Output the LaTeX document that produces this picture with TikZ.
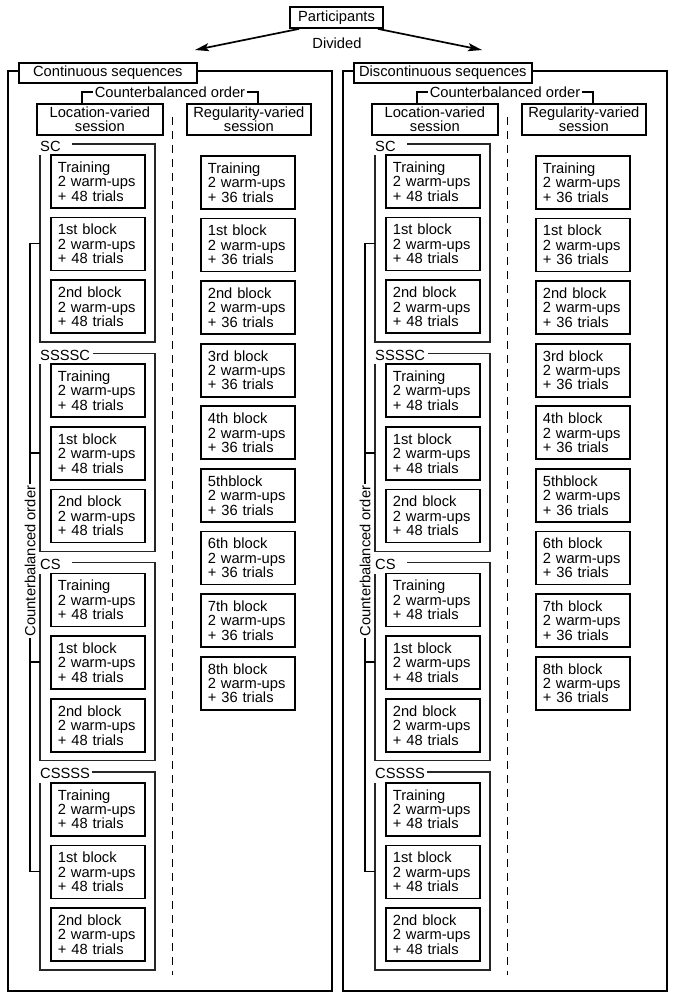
\documentclass[tikz,border=0pt]{standalone}
\usepackage{fontspec}
\setmainfont{Liberation Sans}
\usetikzlibrary{arrows.meta,calc,positioning}

\tikzset{
  box/.style={draw, line width=1.7pt, minimum width=94pt, minimum height=53pt,
    text width=80pt, inner xsep=7pt, inner ysep=2pt, align=left, anchor=north west},
  sessbox/.style={draw, line width=1.7pt, minimum width=126pt, minimum height=31pt,
    inner sep=1pt, align=center, anchor=north west},
  titlebox/.style={draw, line width=1.7pt, fill=white, minimum width=178pt,
    minimum height=20pt, inner sep=1pt, anchor=north west},
  grpframe/.style={line width=1.4pt, black!85},
  panel/.style={line width=1.7pt},
  bracket/.style={line width=1.6pt},
  divider/.style={line width=1.3pt, dash pattern=on 8pt off 6pt},
  arrow/.style={-{Stealth[length=14pt, width=8pt, inset=3pt]}, line width=1.7pt},
}

\begin{document}
\begin{tikzpicture}[x=1pt, y=-1pt, font=\fontsize{14.7}{14.4}\selectfont]
  \useasboundingbox (0,0) rectangle (676,1000);

  % Participants, divided into the two sequence groups
  \node[draw, line width=1.7pt, minimum width=93pt, minimum height=21pt, inner sep=1pt] (part) at (336.5,17.5) {Participants};
  \node (div) at (337,43) {Divided};
  \coordinate (cTip) at (195,50);
  \coordinate (dTip) at (482,50);
  \draw[arrow] ([xshift=10pt]part.south west) -- (cTip);
  \draw[arrow] ([xshift=-6pt]part.south east) -- (dTip);

  \foreach \dx/\ttl/\p in {0/Continuous sequences/c, 335/Discontinuous sequences/d}{
  \begin{scope}[xshift=\dx pt]
    % outer panel with its title
    \draw[panel] (8,71) rectangle (332,991);
    \node[titlebox] (title\p) at (18,62) {\ttl};

    % the two sessions, in counterbalanced order
    \node[sessbox] (sloc\p) at (36,103) {Location-varied\\session};
    \node[sessbox, minimum width=124pt] (sreg\p) at (186,103) {Regularity-varied\\session};
    \node[fill=white, inner sep=2pt] (cb\p) at (170,92) {Counterbalanced order};
    \draw[bracket] (82,0 |- sloc\p.north) |- (cb\p.west);
    \draw[bracket] (cb\p.east) -| (258,0 |- sreg\p.north);

    % dashed divider between the sessions
    \draw[divider] (172.5,117) -- (172.5,975);

    % location-varied: four orders of three blocks
    \foreach \ord/\g/\lx in {SC/0/72, SSSSC/1/93, CS/2/72, CSSSS/3/92}{
      \pgfmathsetmacro\gy{144+209.3*\g}
      \draw[grpframe] (\lx,\gy) -| (155,\gy+198) -| (40,\gy+11);
      \node[anchor=west, inner sep=0pt] (ord\p\g) at (40,\gy+2) {\ord};
      \foreach \blk/\k in {Training/0, 1st block/1, 2nd block/2}
        \node[box] (loc\p\g\k) at (50,\gy+10+62.7*\k) {\blk\\2 warm-ups\\+ 48 trials};
      \coordinate (tick\p\g) at (40,243.5+209.3*\g);
    }

    % counterbalanced order of the four orders
    \draw[bracket] (tick\p0) -- ++(-10,0) |- (tick\p3);
    \draw[bracket] (tick\p1) -- ++(-10,0);
    \draw[bracket] (tick\p2) -- ++(-10,0);
    \node[fill=white, inner sep=2pt, rotate=90] (cbv\p) at (30,561) {Counterbalanced order};

    % regularity-varied: nine blocks
    \foreach \blk [count=\k from 0] in {Training, 1st block, 2nd block, 3rd block, 4th block, 5thblock, 6th block, 7th block, 8th block}
      \node[box] (reg\p\k) at (200,155+62.6*\k) {\blk\\2 warm-ups\\+ 36 trials};
  \end{scope}
  }
\end{tikzpicture}
\end{document}
